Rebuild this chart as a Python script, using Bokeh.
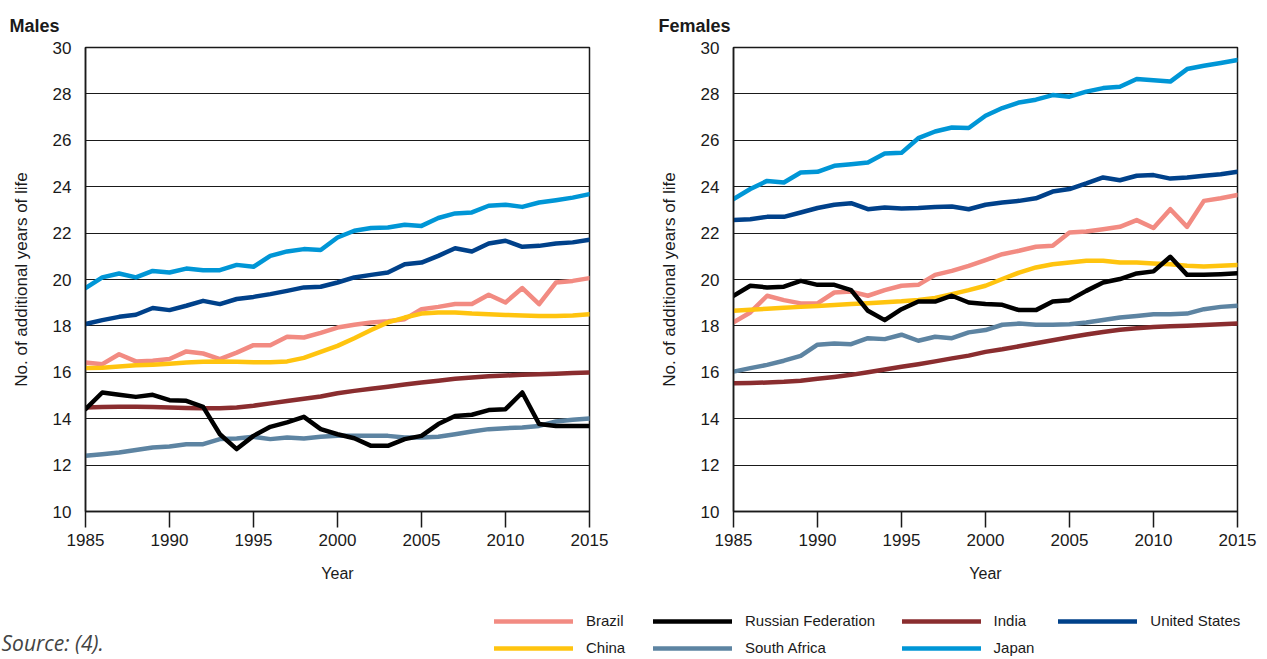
from bokeh.plotting import figure
from bokeh.layouts import row, column
from bokeh.models import Range1d, Label, Legend, LegendItem, FixedTicker
from bokeh.embed import file_html
from bokeh.resources import INLINE

years = list(range(1985, 2016))
x_ticks = [1985, 1990, 1995, 2000, 2005, 2010, 2015]
y_ticks = list(range(10, 31, 2))

countries = ["Brazil", "Russian Federation", "India", "United States",
             "China", "South Africa", "Japan"]
colors = {
    "Brazil": "#F28B82",
    "China": "#FFC40F",
    "Russian Federation": "#000000",
    "South Africa": "#5D84A2",
    "India": "#8A2D2F",
    "Japan": "#0096D6",
    "United States": "#00418A",
}

# ---- Males ----
males_brazil = [16.42, 16.35, 16.78, 16.47, 16.50, 16.57, 16.90, 16.81, 16.57, 16.85,
                17.17, 17.17, 17.53, 17.50, 17.70, 17.93, 18.05, 18.15, 18.20, 18.29,
                18.72, 18.82, 18.94, 18.94, 19.34, 19.01, 19.63, 18.94, 19.87, 19.94, 20.06]
males_china = [16.18, 16.20, 16.25, 16.30, 16.33, 16.37, 16.42, 16.45, 16.47, 16.45,
               16.43, 16.43, 16.47, 16.62, 16.88, 17.14, 17.47, 17.82, 18.15, 18.36,
               18.53, 18.58, 18.58, 18.53, 18.50, 18.47, 18.45, 18.43, 18.43, 18.45, 18.50]
males_russia = [14.41, 15.13, 15.03, 14.94, 15.03, 14.80, 14.77, 14.51, 13.33, 12.69,
                13.26, 13.65, 13.84, 14.08, 13.55, 13.33, 13.16, 12.83, 12.83, 13.12,
                13.26, 13.77, 14.12, 14.17, 14.37, 14.41, 15.13, 13.77, 13.69, 13.69, 13.69]
males_south_africa = [12.40, 12.47, 12.54, 12.65, 12.76, 12.80, 12.90, 12.90, 13.12, 13.15,
                      13.22, 13.12, 13.19, 13.15, 13.22, 13.26, 13.26, 13.26, 13.26, 13.19,
                      13.19, 13.22, 13.33, 13.45, 13.55, 13.59, 13.62, 13.69, 13.88, 13.95, 14.01]
males_india = [14.48, 14.50, 14.52, 14.52, 14.50, 14.48, 14.46, 14.45, 14.45, 14.48,
               14.56, 14.66, 14.76, 14.86, 14.96, 15.10, 15.20, 15.29, 15.38, 15.47,
               15.56, 15.64, 15.72, 15.78, 15.83, 15.86, 15.89, 15.92, 15.94, 15.97, 15.99]
males_us = [18.08, 18.25, 18.39, 18.48, 18.77, 18.68, 18.87, 19.08, 18.94, 19.16,
            19.25, 19.37, 19.51, 19.66, 19.69, 19.87, 20.09, 20.20, 20.30, 20.66,
            20.73, 21.02, 21.35, 21.21, 21.55, 21.67, 21.41, 21.45, 21.55, 21.60, 21.71]
males_japan = [19.63, 20.09, 20.26, 20.09, 20.37, 20.30, 20.47, 20.40, 20.40, 20.63,
               20.55, 21.02, 21.21, 21.31, 21.27, 21.81, 22.10, 22.22, 22.24, 22.36,
               22.31, 22.65, 22.85, 22.89, 23.18, 23.22, 23.13, 23.32, 23.42, 23.53, 23.68]

# ---- Females ----
females_brazil = [18.15, 18.58, 19.30, 19.11, 18.97, 18.97, 19.44, 19.48, 19.30, 19.54,
                  19.73, 19.77, 20.20, 20.37, 20.59, 20.84, 21.09, 21.24, 21.41, 21.45,
                  22.03, 22.07, 22.17, 22.27, 22.56, 22.22, 23.03, 22.27, 23.39, 23.50, 23.64]
females_china = [18.65, 18.70, 18.74, 18.78, 18.82, 18.86, 18.90, 18.94, 18.98, 19.02,
                 19.06, 19.12, 19.20, 19.37, 19.54, 19.73, 20.02, 20.30, 20.52, 20.66,
                 20.73, 20.81, 20.81, 20.73, 20.73, 20.69, 20.66, 20.59, 20.56, 20.59, 20.63]
females_russia = [19.30, 19.73, 19.66, 19.69, 19.94, 19.77, 19.77, 19.54, 18.65, 18.25,
                  18.72, 19.05, 19.05, 19.30, 19.01, 18.94, 18.91, 18.68, 18.68, 19.05,
                  19.11, 19.51, 19.87, 20.02, 20.26, 20.35, 20.98, 20.20, 20.20, 20.23, 20.27]
females_south_africa = [16.03, 16.18, 16.32, 16.50, 16.71, 17.19, 17.24, 17.21, 17.47, 17.43,
                        17.62, 17.36, 17.53, 17.47, 17.72, 17.82, 18.05, 18.10, 18.05, 18.05,
                        18.07, 18.15, 18.25, 18.36, 18.43, 18.50, 18.50, 18.53, 18.72, 18.82, 18.87]
females_india = [15.53, 15.54, 15.56, 15.59, 15.64, 15.72, 15.80, 15.89, 16.00, 16.12,
                 16.24, 16.35, 16.47, 16.60, 16.72, 16.88, 16.99, 17.12, 17.25, 17.38,
                 17.51, 17.63, 17.74, 17.83, 17.90, 17.95, 17.98, 18.01, 18.04, 18.07, 18.10]
females_us = [22.56, 22.60, 22.70, 22.70, 22.89, 23.08, 23.22, 23.29, 23.03, 23.10,
              23.06, 23.08, 23.13, 23.15, 23.03, 23.22, 23.32, 23.39, 23.50, 23.79,
              23.90, 24.14, 24.40, 24.28, 24.47, 24.50, 24.35, 24.40, 24.47, 24.54, 24.64]
females_japan = [23.47, 23.90, 24.25, 24.18, 24.61, 24.64, 24.90, 24.97, 25.04, 25.43,
                 25.46, 26.09, 26.38, 26.55, 26.53, 27.06, 27.39, 27.63, 27.75, 27.95,
                 27.88, 28.10, 28.25, 28.31, 28.64, 28.59, 28.53, 29.07, 29.21, 29.33, 29.46]

males = {"Brazil": males_brazil, "China": males_china, "Russian Federation": males_russia,
         "South Africa": males_south_africa, "India": males_india,
         "United States": males_us, "Japan": males_japan}
females = {"Brazil": females_brazil, "China": females_china, "Russian Federation": females_russia,
           "South Africa": females_south_africa, "India": females_india,
           "United States": females_us, "Japan": females_japan}

draw_order = ["Japan", "United States", "India", "South Africa", "Brazil", "China",
              "Russian Federation"]

FONT = "Liberation Sans"
TXT = "#1a1a1a"
LW = 4.5
TOP_H = 600
BORDER_TOP = 47
FRAME_H = 464


def panel(title, data, width, b_left, b_right, title_offset):
    p = figure(width=width, height=TOP_H, x_range=Range1d(1985, 2015),
               y_range=Range1d(10, 30), output_backend="svg", toolbar_location=None,
               min_border_left=b_left, min_border_right=b_right,
               min_border_top=BORDER_TOP, min_border_bottom=TOP_H - BORDER_TOP - FRAME_H,
               title=title)
    p.title.align = "left"
    p.title.offset = title_offset
    p.title.standoff = 24
    p.title.text_font = FONT
    p.title.text_font_size = "18px"
    p.title.text_font_style = "bold"
    p.title.text_color = TXT

    p.background_fill_color = "white"
    p.border_fill_color = "white"
    p.outline_line_color = TXT
    p.outline_line_width = 1.5
    p.xgrid.visible = False
    p.ygrid.ticker = FixedTicker(ticks=y_ticks)
    p.ygrid.grid_line_color = TXT
    p.ygrid.grid_line_width = 1.2

    xa = p.xaxis[0]
    xa.ticker = FixedTicker(ticks=x_ticks)
    xa.major_tick_out = 16
    xa.major_tick_in = 0
    xa.minor_tick_out = 0
    xa.minor_tick_in = 0
    xa.major_tick_line_color = TXT
    xa.major_tick_line_width = 1.5
    xa.axis_line_color = TXT
    xa.axis_line_width = 1.5
    xa.major_label_standoff = 6
    xa.major_label_text_font = FONT
    xa.major_label_text_font_size = "17px"
    xa.major_label_text_color = TXT
    xa.axis_label = "Year"
    xa.axis_label_text_font = FONT
    xa.axis_label_text_font_size = "16px"
    xa.axis_label_text_font_style = "normal"
    xa.axis_label_text_color = TXT
    xa.axis_label_standoff = 16

    ya = p.yaxis[0]
    ya.ticker = FixedTicker(ticks=y_ticks)
    ya.major_tick_out = 0
    ya.major_tick_in = 0
    ya.minor_tick_out = 0
    ya.minor_tick_in = 0
    ya.axis_line_color = TXT
    ya.axis_line_width = 1.5
    ya.major_label_standoff = 14
    ya.major_label_text_font = FONT
    ya.major_label_text_font_size = "17px"
    ya.major_label_text_color = TXT
    ya.axis_label = "No. of additional years of life"
    ya.axis_label_text_font = FONT
    ya.axis_label_text_font_size = "17px"
    ya.axis_label_text_font_style = "normal"
    ya.axis_label_text_color = TXT
    ya.axis_label_standoff = 19

    for name in draw_order:
        p.line(years, data[name], line_color=colors[name], line_width=LW,
               line_join="round", line_cap="round")
    return p


p1 = panel("Males", males, 640, 85, 51, -76)
p2 = panel("Females", females, 627, 93, 30, -75)

LEG_H = 59
leg = figure(width=1267, height=LEG_H, x_range=Range1d(0, 1), y_range=Range1d(0, 1),
             output_backend="svg", toolbar_location=None, min_border=0,
             x_axis_location=None, y_axis_location=None)
leg.grid.visible = False
leg.outline_line_color = None
leg.background_fill_color = "white"
leg.border_fill_color = "white"

# key swatches (each holds a single point outside the visible range)
rends = {}
for name in countries:
    rends[name] = leg.line(x=[-5, -5], y=[-5, -5], line_color=colors[name],
                           line_width=LW, line_cap="round")

ITEM_H = 20
ITEM_GAP = 7
LEG_TOP = 10.7
columns_spec = [(["Brazil", "China"], 494.0),
                (["Russian Federation", "South Africa"], 653.0),
                (["India", "Japan"], 901.6),
                (["United States"], 1058.3)]
for names, x0 in columns_spec:
    items = [LegendItem(label=n, renderers=[rends[n]]) for n in names]
    n = len(names)
    height = n * ITEM_H + (n - 1) * ITEM_GAP
    vy = LEG_H - (LEG_TOP + height)
    lg = Legend(items=items, location=(x0, vy), orientation="vertical",
                glyph_width=79, glyph_height=ITEM_H, label_height=ITEM_H,
                label_standoff=13, spacing=ITEM_GAP, padding=0, margin=0,
                border_line_color=None, background_fill_alpha=0,
                label_text_font=FONT, label_text_font_size="15px",
                label_text_color=TXT)
    leg.add_layout(lg, "center")

leg.add_layout(Label(x=1, y=LEG_H - 42, x_units="screen", y_units="screen",
                     text="Source: (4).", text_font="Open Sans", text_font_size="21px",
                     text_font_style="italic", text_color="#444444",
                     text_baseline="alphabetic"))

layout = column(row(p1, p2), leg)
open("out.html", "w").write(file_html(layout, INLINE))
